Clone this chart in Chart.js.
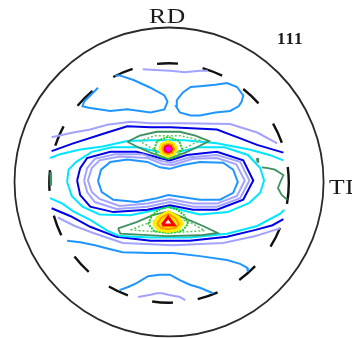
<!DOCTYPE html>
<html><head><meta charset="utf-8">
<script src="https://cdn.jsdelivr.net/npm/chart.js@4.4.1/dist/chart.umd.min.js"></script>
<style>
html,body{margin:0;padding:0;background:#fff;}
#wrap{position:relative;width:352px;height:338px;overflow:hidden;}
canvas{position:absolute;left:0;top:0;}
.lbl{position:absolute;color:#1a1a1a;white-space:nowrap;line-height:1;}
.axis{font-family:"Liberation Serif","Times New Roman",serif;font-size:21px;letter-spacing:0.5px;transform-origin:0 0;transform:scaleX(1.22);}
.pole{font-family:"Liberation Serif",serif;font-weight:bold;font-size:17px;letter-spacing:1px;}
</style></head><body>
<div id="wrap">
<canvas id="c" width="352" height="338"></canvas>
<div class="lbl axis" style="left:149px;top:6px">RD</div>
<div class="lbl axis" style="left:329px;top:177px">TD</div>
<div class="lbl pole" style="left:277px;top:30px">111</div>
</div>
<script>
// {111} pole figure, stereographic projection, outer circle radius = 100.
// Each contour is a list of [x, y] points in projection units.
const limitRadius = 77.5;   // measured region boundary (dashed)
const frameRadius = 100;

// low-level contours
const lavTop   = [[-17,73],[-9,72.5],[1,72],[10,71],[20,72],[25,72]];
const skyTopL  = [[-46,61],[-51,56],[-55,52],[-56,49],[-52,48],[-38,46],[-27,47],[-12,45],[-3,47],[-1,52],[-3,56],[-12,61],[-23,66],[-32,69],[-35,69]];
const skyTopR  = [[5,53],[9,58],[14,61.5],[20,62],[30,63],[37.5,64],[44,61.5],[48,56],[47,52],[45,49],[39.5,46],[30,45],[20,43],[14,43],[7,45],[4.5,49],[5,53]];
const lavUpper = [[-76,29],[-62,32],[-51,34],[-40,37],[-25,39],[-12,38],[7,38],[39.5,37.5],[57,32],[70,25]];
const dbUpper  = [[-76,20],[-62,25],[-40,32],[-27,36],[-12,35.5],[1,35.5],[31,34],[44,29],[57,24],[74,19]];
const cyUpper  = [[-77,15.5],[-70.5,18],[-57.5,21],[-43,23],[-27,26.5],[-12,27],[10,27],[31,25],[52,21],[65,17.5],[74,14]];
const cyLoop   = [[-66,0],[-65,8],[-60,13],[-50,19.5],[-37,22.5],[-20,22.5],[-7,19.5],[-0.5,17.5],[6,19.5],[19,22.5],[36,22.5],[51,17.5],[59,9],[61.5,1],[59,-7],[52,-13.5],[38,-19.5],[20,-21],[7,-18],[-0.5,-16],[-8,-18],[-25,-21.5],[-45,-21],[-56,-16],[-63,-9],[-66,0]];
const dbLoop   = [[-59.5,1],[-57.5,9],[-53,15.5],[-38,19.5],[-21,19.5],[-6,15.5],[0.5,14],[11.5,17.5],[31,19.5],[48,14],[54.5,1],[48,-11.5],[31,-18],[15.5,-18],[0.5,-15],[-14,-18],[-36,-19.5],[-51,-16],[-57.5,-8.5],[-59.5,1]];
const lavLoopB = [[-55,1],[-53,9],[-48,15],[-35,18],[-17.5,18],[-4.5,13.5],[1.5,12.5],[13.5,16],[31,17.5],[46,13],[52,1],[46,-10.5],[31,-16],[15.5,-16],[0.5,-13],[-14,-16],[-34,-17.5],[-48,-13],[-53,-6.5],[-55,1]];
const lavLoopA = [[-52.5,1],[-50,9],[-45,14],[-32,16.5],[-14,15.5],[-4,11.5],[2.5,11],[15.5,15],[31,15.5],[43.5,11.5],[49,1],[44,-9],[31,-14],[15.5,-14],[0.5,-11],[-14,-14],[-32,-15.5],[-45,-11],[-50,-6.5],[-52.5,1]];
const skyLoop  = [[-46,0.5],[-44,8],[-38,13],[-27,14.5],[-14,13],[-6,9.5],[0.5,8.5],[9,11],[20,13],[35,12.5],[41.5,8],[44.5,0],[41.5,-7],[33,-11.5],[20,-11.5],[7,-9.5],[-0.5,-8.5],[-8,-10.5],[-21,-13],[-36,-11.5],[-43.5,-6.5],[-46,0.5]];
const cyLower  = [[-77,-10.5],[-69,-14],[-62,-19],[-51,-24.5],[-40,-31.5],[-32,-35],[-12,-36],[13.5,-36],[37.5,-33.5],[57,-28.5],[72,-20.5],[74.5,-18]];
const dbLower  = [[-76,-17],[-64,-22],[-51,-29],[-34,-35.5],[-12,-38],[13.5,-38],[37.5,-35.5],[56,-31],[67,-28],[74,-24]];
const lavLower = [[-72,-23],[-61,-28.5],[-49,-33],[-30,-39.5],[2.5,-41],[35,-39.5],[56,-35],[67,-31.5],[72,-30]];
const skyLower = [[-66,-38],[-57.5,-39],[-48,-41],[-38,-43.5],[-30,-45.5],[-12,-46],[2.5,-46],[20,-48],[37.5,-50.5],[46,-53],[50.5,-55.5],[51,-58]];
const skyBottom = [[-32,-70],[-26.5,-68],[-21,-65.5],[-13.5,-61],[-6,-60],[0.5,-60],[7,-63.5],[13.5,-66.5],[20,-68.5],[28.5,-72]];
const lavBottom = [[-20,-74.5],[-12,-73],[-8,-72],[-4.5,-72],[-0.5,-73],[7,-74.5],[10.5,-76.5]];

// intermediate contours
const grUpperOuter = [[-27,26],[-19,30],[-8,32.5],[7,32.5],[17,30],[26,26.5],[17,22],[10.5,19],[-0.5,15],[-12,19],[-20,22.5],[-27,26]];
const grUpperInner = [[-19,26.5],[-9,30],[7,30],[20,27],[10.5,22],[0.5,17.5],[-9,20.5],[-19,26.5]];
const grLowerOuter = [[-33,-30],[-21,-26],[-10.5,-21.5],[-0.5,-19],[11.5,-24],[22,-28.5],[31.5,-33],[20,-34.5],[-1.5,-35],[-31.5,-33.5],[-33,-30]];
const grLowerInner = [[-25,-31],[-12,-26],[0.5,-22],[13.5,-26],[23,-31.5],[0.5,-33],[-25,-31]];
const grRight  = [[60,9.5],[64,9],[68.5,8],[74,4.5],[72,0],[70.5,-4],[73,-8.5],[76.5,-11.5]];
const grDot    = [[57,15.5],[57.5,12.5]];
const grLeft   = [[-76.5,6.5],[-76.5,-2.5]];

// high-level contours around the two maxima
const upGreen  = [[-9.6,21.4],[-7.7,26.6],[-0.6,29.2],[6.5,26.6],[8.4,21.4],[5.9,16.9],[-0.6,14.9],[-7.1,16.9],[-9.6,21.4]];
const upYellow = [[-6.4,21.4],[-5.1,24.6],[-0.6,26.6],[3.9,24.6],[5.2,21.4],[3.9,18.2],[-0.6,16.2],[-5.1,18.2],[-6.4,21.4]];
const upOrange = [[-4.5,21.4],[-3.2,24],[-0.6,24.6],[2,24],[3.3,21.4],[2,18.8],[-0.6,18.2],[-3.2,18.8],[-4.5,21.4]];
const upRed    = [[-3.2,21.4],[-2.4,23],[-0.6,23.7],[1.2,23],[2,21.4],[1.2,19.8],[-0.6,19.1],[-2.4,19.8],[-3.2,21.4]];
const upMax    = [[-2.2,21.4],[-0.6,23],[1,21.4],[-0.6,19.8],[-2.2,21.4]];
const loGreen  = [[-13.5,-27.2],[-11,-21.4],[-5.8,-17.5],[-0.6,-16.2],[4.6,-17.5],[9.8,-21.4],[12.3,-27.2],[8.5,-31.7],[-0.6,-33],[-9.7,-31.7],[-13.5,-27.2]];
const loYellow = [[-10.3,-27.2],[-7.7,-22.7],[-0.6,-18.8],[6.5,-22.7],[9.1,-27.2],[5.9,-31.1],[-0.6,-32.4],[-7.1,-31.1],[-10.3,-27.2]];
const loOrange = [[-7.7,-27.2],[-5.1,-23.3],[-0.6,-20.7],[3.9,-23.3],[6.5,-27.2],[3.9,-29.8],[-0.6,-30.4],[-5.1,-29.8],[-7.7,-27.2]];
const loMax    = [[-4.5,-27.8],[-0.6,-22.7],[3.2,-27.8],[-4.5,-27.8]];

const C = {
  lav: '#a3a3ff', sky: '#1f95ff', dblue: '#0000e6', cyan: '#00e6ff',
  dgreen: '#3f9160', green: '#22cc22', yellow: '#ffee00', orange: '#ff9a00',
  red: '#ff0000', magenta: '#ff00ff'
};

// first entry is drawn on top
const layers = [
  {pts: upMax, color: C.magenta, w: 2, fill: C.magenta},
  {pts: upRed, color: C.red, w: 2, fill: C.red},
  {pts: upOrange, color: C.orange, w: 2},
  {pts: upYellow, color: C.yellow, w: 2, fill: C.yellow},
  {pts: upGreen, color: C.green, w: 2, dash: [2, 1]},
  {pts: loMax, color: C.red, w: 3, fill: '#ffffff'},
  {pts: loOrange, color: C.orange, w: 2},
  {pts: loYellow, color: C.yellow, w: 2, fill: C.yellow},
  {pts: loGreen, color: C.green, w: 2, dash: [2, 1]},
  {pts: grUpperInner, color: '#66c266', w: 1.5, dash: [2, 2]},
  {pts: grUpperOuter, color: C.dgreen, w: 1.8},
  {pts: grLowerInner, color: '#66c266', w: 1.5, dash: [2, 2]},
  {pts: grLowerOuter, color: C.dgreen, w: 1.8},
  {pts: grRight, color: C.dgreen, w: 1.8},
  {pts: grDot, color: C.dgreen, w: 2.5},
  {pts: grLeft, color: C.dgreen, w: 2.5},
  {pts: skyLoop, color: C.sky, w: 2},
  {pts: lavLoopA, color: C.lav, w: 2},
  {pts: lavLoopB, color: C.lav, w: 2},
  {pts: dbLoop, color: C.dblue, w: 2},
  {pts: cyLoop, color: C.cyan, w: 2},
  {pts: cyUpper, color: C.cyan, w: 2},
  {pts: dbUpper, color: C.dblue, w: 2},
  {pts: lavUpper, color: C.lav, w: 2},
  {pts: cyLower, color: C.cyan, w: 2},
  {pts: dbLower, color: C.dblue, w: 2},
  {pts: lavLower, color: C.lav, w: 2},
  {pts: skyLower, color: C.sky, w: 2},
  {pts: skyTopL, color: C.sky, w: 2},
  {pts: skyTopR, color: C.sky, w: 2},
  {pts: lavTop, color: C.lav, w: 2},
  {pts: skyBottom, color: C.sky, w: 2},
  {pts: lavBottom, color: C.lav, w: 2}
];

const datasets = layers.map(l => ({
  data: l.pts.map(([x, y]) => ({x, y})),
  showLine: true,
  borderColor: l.color,
  borderWidth: l.w,
  borderDash: l.dash || [],
  backgroundColor: l.fill || 'transparent',
  fill: l.fill ? 'shape' : false,
  pointRadius: 0,
  tension: 0
}));

// projection frame: outer circle and dashed limit of the measured region
const framePlugin = {
  id: 'frame',
  beforeDatasetsDraw(chart) {
    const {ctx, scales: {x, y}} = chart;
    const cx = x.getPixelForValue(0), cy = y.getPixelForValue(0);
    const rx = x.getPixelForValue(frameRadius) - cx;
    const ry = cy - y.getPixelForValue(frameRadius);
    const lx = x.getPixelForValue(limitRadius) - cx;
    const ly = cy - y.getPixelForValue(limitRadius);
    ctx.save();
    ctx.strokeStyle = '#2a2a2a';
    ctx.lineWidth = 1.8;
    ctx.beginPath();
    ctx.ellipse(cx, cy, rx, ry, 0, 0, Math.PI * 2);
    ctx.stroke();
    ctx.strokeStyle = '#111';
    ctx.lineWidth = 2.4;
    ctx.setLineDash([21, 25]);
    ctx.beginPath();
    ctx.ellipse(cx, cy + 1, lx, ly, 0, 0, Math.PI * 2);
    ctx.stroke();
    ctx.restore();
  }
};

new Chart(document.getElementById('c'), {
  type: 'scatter',
  data: {datasets},
  options: {
    responsive: false,
    animation: false,
    events: [],
    layout: {padding: 0},
    scales: {
      x: {type: 'linear', min: -109.4, max: 118.4, display: false},
      y: {type: 'linear', min: -101, max: 117.8, display: false}
    },
    plugins: {legend: {display: false}, tooltip: {enabled: false}}
  },
  plugins: [framePlugin]
});
</script>
</body></html>
